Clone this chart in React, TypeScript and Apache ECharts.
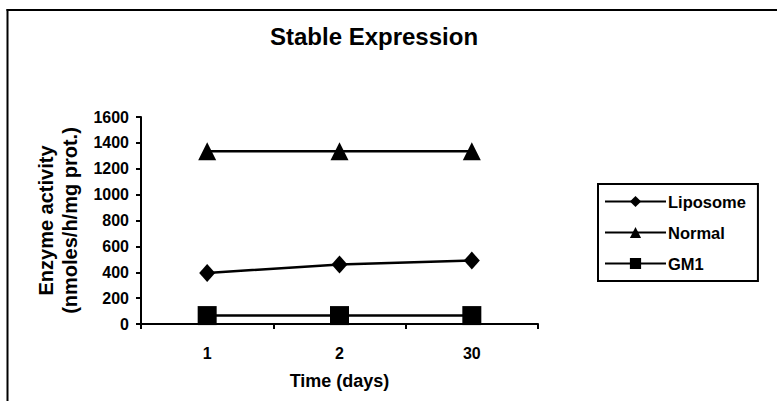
import React, { useEffect, useRef } from "react";
import * as echarts from "echarts";

const categories = ["1", "2", "30"];
const liposome = [395, 460, 490];
const normal = [1335, 1335, 1335];
const gm1 = [65, 65, 65];
const yTicks = { min: 0, max: 1600, interval: 200 };

const FONT = "Liberation Sans, Arial, sans-serif";

export default function App() {
  const ref = useRef<HTMLDivElement>(null);
  useEffect(() => {
    if (!ref.current) return;
    const chart = echarts.init(ref.current, null, { renderer: "svg" });
    const lineStyle = { color: "#000", width: 2.5 };
    chart.setOption({
      animation: false,
      backgroundColor: "#fff",
      textStyle: { fontFamily: FONT, color: "#000" },
      title: {
        text: "Stable Expression",
        left: 369,
        top: 19,
        textAlign: "center",
        textStyle: { fontFamily: FONT, fontWeight: "bold", fontSize: 24, color: "#000" },
      },
      grid: { left: 141, right: 239, top: 117, bottom: 77, containLabel: false },
      legend: {
        orient: "vertical",
        left: 598,
        top: 184,
        padding: [9, 12, 9, 6],
        itemGap: 14,
        itemWidth: 61,
        itemHeight: 14,
        borderColor: "#000",
        borderWidth: 2,
        textStyle: { fontFamily: FONT, fontWeight: "bold", fontSize: 16.5, color: "#000", padding: [0, 0, 0, -3] },
        data: ["Liposome", "Normal", "GM1"],
      },
      xAxis: {
        type: "category",
        data: categories,
        boundaryGap: true,
        name: "Time (days)",
        nameLocation: "middle",
        nameGap: 48,
        nameTextStyle: { fontFamily: FONT, fontWeight: "bold", fontSize: 18, color: "#000" },
        axisLine: { lineStyle: { color: "#000", width: 2 } },
        axisTick: { show: true, length: 5, lineStyle: { color: "#000", width: 2 } },
        axisLabel: { margin: 21, fontFamily: FONT, fontWeight: "bold", fontSize: 16, color: "#000" },
        splitLine: { show: false },
      },
      yAxis: {
        type: "value",
        min: yTicks.min,
        max: yTicks.max,
        interval: yTicks.interval,
        name: "Enzyme activity\n(nmoles/h/mg prot.)",
        nameLocation: "middle",
        nameRotate: 90,
        nameGap: 59,
        nameTextStyle: { fontFamily: FONT, fontWeight: "bold", fontSize: 20, color: "#000", lineHeight: 24 },
        axisLine: { show: true, lineStyle: { color: "#000", width: 2 } },
        axisTick: { show: true, length: 5, lineStyle: { color: "#000", width: 2 } },
        axisLabel: {
          margin: 12,
          fontFamily: FONT,
          fontWeight: "bold",
          fontSize: 16,
          color: "#000",
          formatter: (v: number) => String(v),
        },
        splitLine: { show: false },
      },
      series: [
        {
          name: "Liposome",
          type: "line",
          data: liposome,
          symbol: "diamond",
          symbolSize: [16, 18],
          lineStyle,
          itemStyle: { color: "#000" },
        },
        {
          name: "Normal",
          type: "line",
          data: normal,
          symbol: "triangle",
          symbolSize: 18,
          lineStyle,
          itemStyle: { color: "#000" },
        },
        {
          name: "GM1",
          type: "line",
          data: gm1,
          symbol: "rect",
          symbolSize: 19,
          lineStyle,
          itemStyle: { color: "#000" },
        },
      ],
      graphic: [
        { type: "line", shape: { x1: 7.5, y1: 9, x2: 7.5, y2: 401 }, style: { stroke: "#000", lineWidth: 2 } },
        { type: "line", shape: { x1: 6.5, y1: 10, x2: 777, y2: 10 }, style: { stroke: "#000", lineWidth: 2 } },
      ],
    });
    return () => chart.dispose();
  }, []);
  return (
    <div
      ref={ref}
      style={{ position: "absolute", left: 0, top: 0, width: 777, height: 401 }}
    />
  );
}
